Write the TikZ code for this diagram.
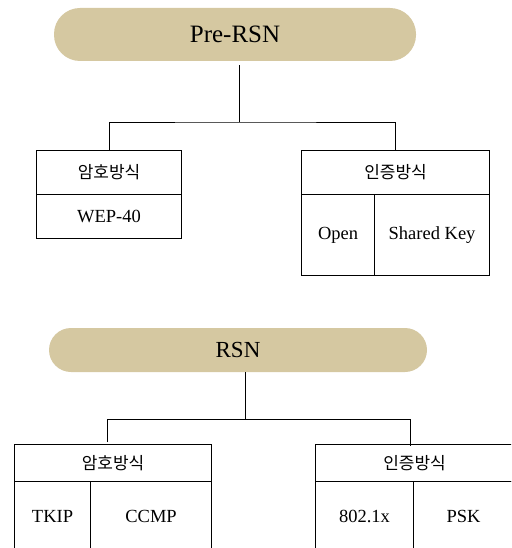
\documentclass[tikz,border=0pt]{standalone}
\usepackage{fontspec}
\setmainfont{Liberation Serif}
\newfontfamily\krfont{Noto Sans CJK KR}
\usetikzlibrary{positioning}
\definecolor{pilltan}{RGB}{213,200,161}
\tikzset{
  pill/.style={fill=pilltan, inner sep=0pt, font=\fontsize{23}{26}\selectfont},
  cell/.style={draw, line width=1.1pt, inner sep=0pt, anchor=north west,
    font=\fontsize{18.5}{21}\selectfont},
  hcell/.style={cell, font=\krfont\fontsize{17}{19}\selectfont},
  link/.style={line width=0.8pt},
}

\begin{document}
\begin{tikzpicture}[x=1pt, y=-1pt]
\clip (0,0) rectangle (511,548);
% Pre-RSN
\node[pill, rounded corners=26pt, minimum width=362pt, minimum height=53pt,
  font=\fontsize{25}{28}\selectfont] (pre) at (235,34.5) {Pre-RSN};
\node[hcell, minimum width=145pt, minimum height=44pt] (enc1) at (36,150) {암호방식};
\node[cell, minimum width=145pt, minimum height=44pt] (wep) at (36,194) {WEP-40};
\node[hcell, minimum width=188pt, minimum height=44pt] (auth1) at (301,150) {인증방식};
\node[cell, minimum width=73pt, minimum height=81pt] (open) at (301,194) {Open};
\node[cell, minimum width=115pt, minimum height=81pt] (shared) at (374,194) {Shared Key};
\coordinate (prebus) at (239,122);
\draw[link, shorten <=4pt] (pre.south -| prebus) -- (prebus);
\draw[link] (enc1.north) |- (prebus) -| (auth1.north);
% RSN
\node[pill, rounded corners=22pt, minimum width=378pt, minimum height=44pt] (rsn) at (238,350) {RSN};
\node[hcell, minimum width=197pt, minimum height=37pt] (enc2) at (14,444) {암호방식};
\node[cell, minimum width=76pt, minimum height=70pt] (tkip) at (14,481) {TKIP};
\node[cell, minimum width=121pt, minimum height=70pt] (ccmp) at (90,481) {CCMP};
\node[hcell, minimum width=198pt, minimum height=37pt] (auth2) at (315,444) {인증방식};
\node[cell, minimum width=98pt, minimum height=70pt] (dotx) at (315,481) {802.1x};
\node[cell, minimum width=100pt, minimum height=70pt] (psk) at (413,481) {PSK};
\coordinate (rsnbus) at (245,419);
\coordinate (lbus) at (107,419);
\coordinate (rbus) at (410,419);
\draw[link] (rsn.south -| rsnbus) -- (rsnbus);
\draw[link, shorten <=2pt] (lbus |- enc2.north) -- (lbus) -- (rbus) -- ([yshift=-2pt]rbus |- auth2.north);
\end{tikzpicture}
\end{document}
